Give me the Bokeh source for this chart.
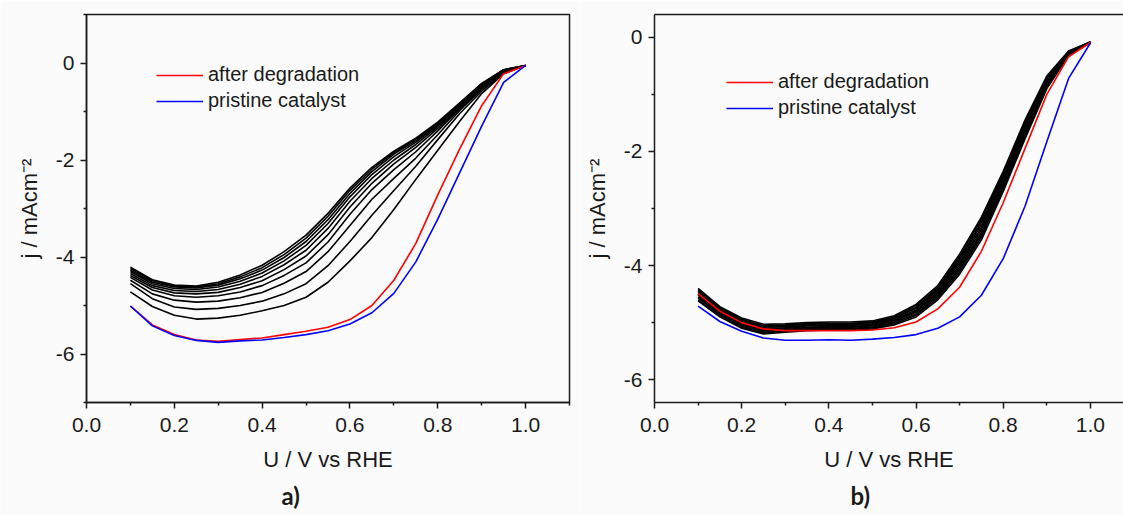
from bokeh.plotting import figure
from bokeh.layouts import row
from bokeh.models import (Range1d, FixedTicker, NumeralTickFormatter, Legend,
                          LegendItem, LinearAxis, Title)
from bokeh.embed import file_html
from bokeh.resources import INLINE

# ---------------- data ----------------
voltage = [0.10, 0.15, 0.20, 0.25, 0.30, 0.35, 0.40, 0.45, 0.50, 0.55,
           0.60, 0.65, 0.70, 0.75, 0.80, 0.85, 0.90, 0.95, 1.00]

# panel a) - black degradation cycles (bottom to top)
a_cycles = [
    [-4.72, -5.02, -5.20, -5.28, -5.26, -5.20, -5.11, -5.00, -4.83, -4.52, -4.08, -3.60, -3.02, -2.40, -1.80, -1.20, -0.63, -0.22, -0.05],
    [-4.55, -4.86, -5.03, -5.08, -5.06, -5.00, -4.91, -4.76, -4.55, -4.18, -3.68, -3.14, -2.63, -2.13, -1.58, -1.04, -0.58, -0.20, -0.05],
    [-4.48, -4.76, -4.89, -4.93, -4.91, -4.84, -4.73, -4.54, -4.30, -3.89, -3.35, -2.81, -2.38, -1.96, -1.48, -0.98, -0.54, -0.19, -0.05],
    [-4.42, -4.68, -4.80, -4.83, -4.80, -4.72, -4.59, -4.38, -4.12, -3.69, -3.12, -2.61, -2.20, -1.83, -1.40, -0.94, -0.51, -0.18, -0.05],
    [-4.38, -4.63, -4.74, -4.76, -4.73, -4.63, -4.49, -4.26, -3.98, -3.54, -2.97, -2.48, -2.08, -1.74, -1.35, -0.91, -0.49, -0.17, -0.05],
    [-4.34, -4.59, -4.69, -4.71, -4.67, -4.56, -4.40, -4.16, -3.86, -3.41, -2.85, -2.38, -2.00, -1.68, -1.31, -0.89, -0.47, -0.16, -0.05],
    [-4.30, -4.55, -4.65, -4.67, -4.62, -4.50, -4.33, -4.08, -3.76, -3.31, -2.76, -2.30, -1.93, -1.63, -1.28, -0.87, -0.45, -0.15, -0.05],
    [-4.27, -4.52, -4.62, -4.64, -4.58, -4.45, -4.27, -4.01, -3.68, -3.23, -2.69, -2.24, -1.88, -1.60, -1.26, -0.85, -0.44, -0.15, -0.05],
    [-4.24, -4.49, -4.60, -4.62, -4.55, -4.41, -4.22, -3.95, -3.61, -3.16, -2.63, -2.19, -1.85, -1.57, -1.24, -0.84, -0.43, -0.14, -0.05],
    [-4.21, -4.47, -4.58, -4.60, -4.52, -4.37, -4.17, -3.89, -3.55, -3.10, -2.58, -2.15, -1.82, -1.55, -1.22, -0.82, -0.42, -0.14, -0.05],
]
a_after = [-5.01, -5.40, -5.60, -5.71, -5.74, -5.70, -5.67, -5.60, -5.53, -5.45,
           -5.29, -5.00, -4.48, -3.72, -2.72, -1.77, -0.88, -0.22, -0.05]
a_pristine = [-5.01, -5.42, -5.62, -5.72, -5.76, -5.73, -5.71, -5.66, -5.60, -5.52,
              -5.38, -5.15, -4.75, -4.10, -3.22, -2.26, -1.30, -0.40, -0.05]

# panel b) - black degradation cycles (bottom to top)
b_cycles = [
    [-4.62, -4.90, -5.10, -5.20, -5.17, -5.14, -5.13, -5.13, -5.11, -5.04, -4.90, -4.60, -4.15, -3.55, -2.70, -1.78, -0.90, -0.32, -0.09],
    [-4.60, -4.88, -5.08, -5.18, -5.15, -5.12, -5.12, -5.11, -5.09, -5.02, -4.87, -4.57, -4.11, -3.50, -2.66, -1.74, -0.88, -0.31, -0.09],
    [-4.57, -4.86, -5.06, -5.16, -5.14, -5.11, -5.10, -5.10, -5.08, -5.00, -4.85, -4.54, -4.07, -3.46, -2.62, -1.70, -0.85, -0.30, -0.09],
    [-4.55, -4.84, -5.04, -5.14, -5.12, -5.09, -5.08, -5.08, -5.06, -4.98, -4.82, -4.52, -4.03, -3.42, -2.58, -1.67, -0.83, -0.29, -0.09],
    [-4.52, -4.82, -5.02, -5.12, -5.10, -5.08, -5.07, -5.07, -5.05, -4.97, -4.80, -4.49, -3.99, -3.37, -2.54, -1.63, -0.80, -0.28, -0.08],
    [-4.50, -4.80, -5.00, -5.10, -5.09, -5.06, -5.05, -5.05, -5.03, -4.95, -4.78, -4.46, -3.95, -3.33, -2.51, -1.60, -0.78, -0.28, -0.08],
    [-4.47, -4.78, -4.98, -5.08, -5.07, -5.05, -5.04, -5.04, -5.02, -4.93, -4.75, -4.43, -3.91, -3.28, -2.47, -1.56, -0.75, -0.27, -0.08],
    [-4.45, -4.76, -4.96, -5.07, -5.05, -5.03, -5.02, -5.02, -5.00, -4.92, -4.73, -4.41, -3.88, -3.24, -2.43, -1.52, -0.73, -0.26, -0.08],
    [-4.42, -4.74, -4.94, -5.05, -5.04, -5.02, -5.01, -5.01, -4.99, -4.90, -4.70, -4.38, -3.84, -3.19, -2.39, -1.49, -0.70, -0.25, -0.08],
    [-4.40, -4.72, -4.92, -5.03, -5.02, -5.00, -4.99, -4.99, -4.97, -4.88, -4.68, -4.35, -3.80, -3.15, -2.35, -1.45, -0.68, -0.24, -0.08],
]
b_after = [-4.49, -4.80, -5.00, -5.11, -5.14, -5.14, -5.14, -5.14, -5.13, -5.09,
           -4.99, -4.76, -4.38, -3.75, -2.90, -1.95, -1.00, -0.34, -0.09]
b_pristine = [-4.71, -4.98, -5.15, -5.27, -5.31, -5.31, -5.30, -5.31, -5.29, -5.26,
              -5.21, -5.10, -4.90, -4.52, -3.88, -2.96, -1.83, -0.72, -0.10]

x_major = [0.0, 0.2, 0.4, 0.6, 0.8, 1.0]
x_minor = [0.1, 0.3, 0.5, 0.7, 0.9, 1.1]
y_major = [0, -2, -4, -6]
y_minor = [1, -1, -3, -5, -7]

series_names = ["after degradation", "pristine catalyst"]
x_title = "U / V vs RHE"
y_title = "j / mAcm\u207b\u00b2"
panel_tags = ["a)", "b)"]

FONT = "Liberation Sans"
BG = "#fbfbfb"
INK = "#1a1a1a"


def style_axis(ax):
    ax.axis_line_color = INK
    ax.axis_line_width = 1.5
    ax.major_tick_line_color = INK
    ax.major_tick_line_width = 1.5
    ax.minor_tick_line_color = INK
    ax.minor_tick_line_width = 1.5
    ax.major_tick_out = 6
    ax.major_tick_in = 0
    ax.minor_tick_out = 3
    ax.minor_tick_in = 0
    ax.major_label_text_font = FONT
    ax.major_label_text_font_size = "21px"
    ax.major_label_text_color = INK
    ax.axis_label_text_font = FONT
    ax.axis_label_text_font_size = "22px"
    ax.axis_label_text_font_style = "normal"
    ax.axis_label_text_color = INK


def make_panel(width, border_left, border_right, x_end, y_start, y_end,
               cycles, after, pristine, legend_xy, tag, tag_offset, outline):
    p = figure(width=width, height=515, output_backend="svg",
               toolbar_location=None,
               x_range=Range1d(0.0, x_end), y_range=Range1d(y_start, y_end),
               min_border_left=border_left, min_border_right=border_right,
               min_border_top=14, min_border_bottom=113,
               background_fill_color=BG, border_fill_color=BG)
    p.grid.visible = False
    xa = p.below[0]
    ya = p.left[0]
    if outline:
        p.outline_line_color = INK
        p.outline_line_width = 1.5
    else:
        p.outline_line_color = None
        top = LinearAxis(ticker=FixedTicker(ticks=[]),
                         major_label_text_font_size="0px", major_tick_out=0,
                         major_tick_in=0, minor_tick_out=0, minor_tick_in=0,
                         major_label_standoff=0, axis_line_color=INK,
                         axis_line_width=1.5)
        p.add_layout(top, "above")

    xa.ticker = FixedTicker(ticks=x_major, minor_ticks=x_minor)
    xa.formatter = NumeralTickFormatter(format="0.0")
    ya.ticker = FixedTicker(ticks=y_major, minor_ticks=y_minor)
    ya.formatter = NumeralTickFormatter(format="0")
    style_axis(xa)
    style_axis(ya)
    xa.axis_label = x_title
    ya.axis_label = y_title
    xa.major_label_standoff = 9
    ya.major_label_standoff = 6
    xa.axis_label_standoff = 12
    ya.axis_label_standoff = 11

    for c in cycles:
        p.line(voltage, c, line_color="black", line_width=1.6)
    r_after = p.line(voltage, after, line_color="#ff0000", line_width=1.6)
    r_pris = p.line(voltage, pristine, line_color="#0000ff", line_width=1.6)

    legend = Legend(items=[LegendItem(label=series_names[0], renderers=[r_after]),
                           LegendItem(label=series_names[1], renderers=[r_pris])],
                    location=legend_xy, glyph_width=47, glyph_height=20,
                    label_height=20, label_standoff=5, spacing=3, padding=0,
                    margin=0, background_fill_alpha=0, border_line_alpha=0,
                    label_text_font=FONT, label_text_font_size="20px",
                    label_text_color=INK)
    p.add_layout(legend)

    p.add_layout(Title(text=tag, align="left", offset=tag_offset,
                       text_font="Lato", text_font_size="24px",
                       text_font_style="bold", text_color=INK, standoff=8),
                 "below")
    return p


pa = make_panel(580, 86, 11, 1.1, -7.0, 1.0, a_cycles, a_after, a_pristine,
                (70, 290), panel_tags[0], 195, True)
pb = make_panel(543, 74, 0, 1.076, -6.4, 0.4, b_cycles, b_after, b_pristine,
                (72, 283), panel_tags[1], 196, False)

layout = row(pa, pb)
open("out.html", "w").write(file_html(layout, INLINE))
